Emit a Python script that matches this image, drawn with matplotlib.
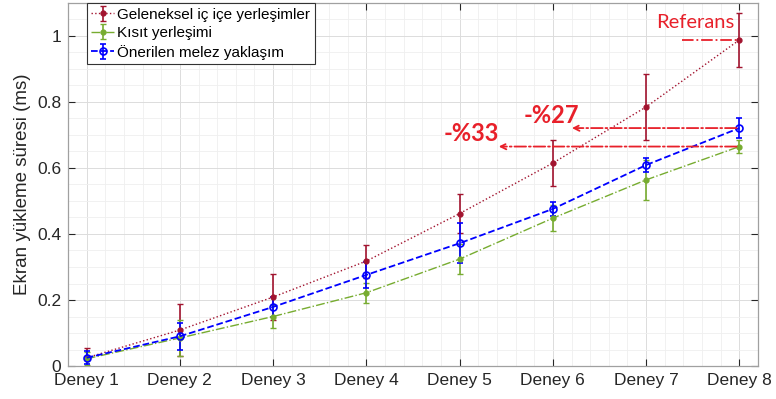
import numpy as np
import matplotlib
matplotlib.use("Agg")
import matplotlib.pyplot as plt
from matplotlib.ticker import MultipleLocator

plt.rcParams["font.family"] = ["Liberation Sans", "DejaVu Sans"]

labels = ["Deney 1", "Deney 2", "Deney 3", "Deney 4", "Deney 5", "Deney 6", "Deney 7", "Deney 8"]
x = np.arange(1, 9)

geleneksel = [0.025, 0.109, 0.209, 0.318, 0.462, 0.615, 0.785, 0.988]
geleneksel_err = [0.03, 0.08, 0.07, 0.05, 0.06, 0.07, 0.10, 0.082]

kisit = [0.022, 0.085, 0.150, 0.222, 0.324, 0.448, 0.564, 0.665]
kisit_err = [0.02, 0.055, 0.035, 0.03, 0.045, 0.04, 0.06, 0.02]

melez = [0.025, 0.090, 0.179, 0.276, 0.372, 0.476, 0.609, 0.721]
melez_err = [0.02, 0.04, 0.03, 0.04, 0.06, 0.02, 0.02, 0.03]

c_red = "#A2142F"
c_green = "#77AC30"
c_blue = "#0000FF"
c_note = "#E8202A"

fig = plt.figure(figsize=(7.76, 3.99), dpi=100)
ax = fig.add_axes([0.0876, 0.0827, 0.8892, 0.9098])

ax.errorbar(x, geleneksel, yerr=geleneksel_err, color=c_red, ls=":", lw=1.0,
            marker=".", ms=7, capsize=2, elinewidth=1.2, label="Geleneksel iç içe yerleşimler")
ax.errorbar(x, kisit, yerr=kisit_err, color=c_green, ls="-.", lw=1.0,
            marker=".", ms=7, capsize=2, elinewidth=1.2, label="Kısıt yerleşimi")
ax.errorbar(x, melez, yerr=melez_err, color=c_blue, ls="--", lw=1.3,
            marker="o", ms=5, mfc="none", mew=1.2, capsize=2, elinewidth=1.2,
            label="Önerilen melez yaklaşım")

# reference line and reduction arrows at the last experiment
ax.plot([7.39, 8], [geleneksel[-1], geleneksel[-1]], color=c_note, ls="-.", lw=1.3)
ax.text(7.53, 1.015, "Referans", color=c_note, fontsize=14.5, family=["Lato", "DejaVu Sans"],
        ha="center", va="bottom")
ax.annotate("", xy=(6.175, melez[-1]), xytext=(8, melez[-1]),
            arrowprops=dict(arrowstyle="->", color=c_note, ls="-.", lw=1.3))
ax.annotate("", xy=(5.39, kisit[-1]), xytext=(8, kisit[-1]),
            arrowprops=dict(arrowstyle="->", color=c_note, ls="-.", lw=1.3))
ax.text(5.98, 0.76, "-%27", color=c_note, fontsize=17, fontweight="bold",
        family=["Lato", "DejaVu Sans"], ha="center", va="center")
ax.text(5.13, 0.706, "-%33", color=c_note, fontsize=17, fontweight="bold",
        family=["Lato", "DejaVu Sans"], ha="center", va="center")

ax.set_xlim(0.8, 8.2)
ax.set_ylim(0, 1.1)
ax.set_xticks(x)
ax.set_xticklabels(labels)
ax.set_yticks([0, 0.2, 0.4, 0.6, 0.8, 1])
ax.set_yticklabels(["0", "0.2", "0.4", "0.6", "0.8", "1"])
ax.xaxis.set_minor_locator(MultipleLocator(0.2))
ax.yaxis.set_minor_locator(MultipleLocator(0.05))
ax.tick_params(which="both", direction="in", top=True, right=True, labelsize=12.5, colors="#262626")
ax.tick_params(which="minor", length=0)
ax.tick_params(which="major", length=5, pad=5)
ax.grid(which="major", color="#dcdcdc", lw=0.7)
ax.grid(which="minor", color="#efefef", lw=0.6)
ax.set_axisbelow(True)
for s in ax.spines.values():
    s.set_color("#a0a0a0")
    s.set_linewidth(0.9)

ax.set_ylabel("Ekran yükleme süresi (ms)", fontsize=13.5, color="#262626")

leg = ax.legend(loc="upper left", bbox_to_anchor=(0.027, 1.0), borderaxespad=0,
                fontsize=11, fancybox=False, framealpha=1, handlelength=1.5,
                handletextpad=0.2, borderpad=0.3, labelspacing=0.3)
leg.get_frame().set_edgecolor("#333333")
leg.get_frame().set_linewidth(0.8)

fig.savefig("out.png", dpi=100)
